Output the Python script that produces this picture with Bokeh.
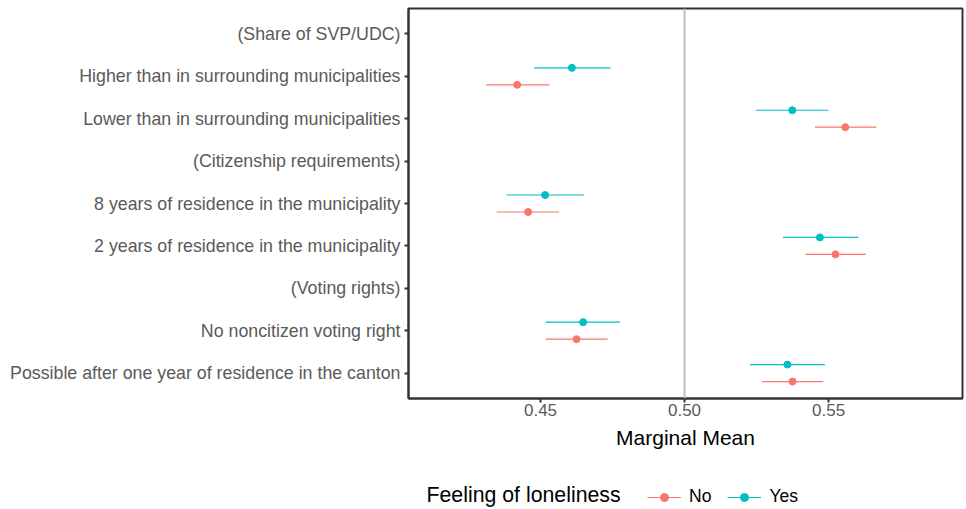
from bokeh.plotting import figure
from bokeh.models import (ColumnDataSource, Range1d, FixedTicker, Legend, LegendItem, Span, Label)
from bokeh.layouts import column
from bokeh.transform import dodge
from bokeh.embed import file_html
from bokeh.resources import INLINE

# Axis categories, bottom to top
y_labels = [
    "Possible after one year of residence in the canton",
    "No noncitizen voting right",
    "(Voting rights)",
    "2 years of residence in the municipality",
    "8 years of residence in the municipality",
    "(Citizenship requirements)",
    "Lower than in surrounding municipalities",
    "Higher than in surrounding municipalities",
    "(Share of SVP/UDC)",
]

levels = [
    "Possible after one year of residence in the canton",
    "No noncitizen voting right",
    "2 years of residence in the municipality",
    "8 years of residence in the municipality",
    "Lower than in surrounding municipalities",
    "Higher than in surrounding municipalities",
]
no_est = [0.5375, 0.4625, 0.5524, 0.4457, 0.5558, 0.4419]
no_lo = [0.5269, 0.4518, 0.5420, 0.4348, 0.5453, 0.4312]
no_hi = [0.5482, 0.4733, 0.5630, 0.4565, 0.5666, 0.4531]
yes_est = [0.5357, 0.4648, 0.5470, 0.4516, 0.5374, 0.4609]
yes_lo = [0.5227, 0.4518, 0.5342, 0.4382, 0.5248, 0.4478]
yes_hi = [0.5487, 0.4776, 0.5603, 0.4651, 0.5500, 0.4743]

x_ticks = [0.45, 0.50, 0.55]
x_tick_labels = ["0.45", "0.50", "0.55"]

legend_title = "Feeling of loneliness"
legend_labels = ["No", "Yes"]

NO_COLOR = "#F8766D"
YES_COLOR = "#00BFC4"
FONT = "Liberation Sans"
TICK_COLOR = "#5A5A5A"

ypos = [y_labels.index(l) + 1 for l in levels]

src_no = ColumnDataSource(dict(y=ypos, est=no_est, lo=no_lo, hi=no_hi))
src_yes = ColumnDataSource(dict(y=ypos, est=yes_est, lo=yes_lo, hi=yes_hi))

p = figure(width=964, height=451, output_backend="svg", toolbar_location=None,
           x_range=Range1d(0.40417, 0.5965), y_range=Range1d(0.4, 9.6),
           min_border_top=8, min_border_right=2, min_border_left=408, min_border_bottom=0)

p.background_fill_color = "white"
p.border_fill_color = "white"
p.outline_line_color = "#333333"
p.outline_line_width = 2
p.xgrid.visible = False
p.ygrid.visible = False

p.add_layout(Span(location=0.5, dimension="height", line_color="#BEBEBE", line_width=2))

p.segment(x0="lo", x1="hi", y0=dodge("y", -0.2), y1=dodge("y", -0.2),
          source=src_no, line_color=NO_COLOR, line_width=1.2)
p.scatter(x="est", y=dodge("y", -0.2), source=src_no, size=7,
          fill_color=NO_COLOR, line_color=NO_COLOR)
p.segment(x0="lo", x1="hi", y0=dodge("y", 0.2), y1=dodge("y", 0.2),
          source=src_yes, line_color=YES_COLOR, line_width=1.2)
p.scatter(x="est", y=dodge("y", 0.2), source=src_yes, size=7,
          fill_color=YES_COLOR, line_color=YES_COLOR)

# y axis
p.yaxis.ticker = FixedTicker(ticks=list(range(1, len(y_labels) + 1)))
p.yaxis.major_label_overrides = {i + 1: l for i, l in enumerate(y_labels)}
p.yaxis.minor_tick_line_color = None
p.yaxis.major_label_text_font = FONT
p.yaxis.major_label_text_font_size = "17.8px"
p.yaxis.major_label_text_color = TICK_COLOR
p.yaxis.axis_line_color = "#333333"
p.yaxis.axis_line_width = 2
p.yaxis.major_tick_line_color = "#333333"
p.yaxis.major_tick_line_width = 2
p.yaxis.major_tick_out = 4
p.yaxis.major_tick_in = 0
p.yaxis.major_label_standoff = 4

# x axis
p.xaxis.ticker = FixedTicker(ticks=x_ticks)
p.xaxis.major_label_overrides = {t: l for t, l in zip(x_ticks, x_tick_labels)}
p.xaxis.minor_tick_line_color = None
p.xaxis.major_label_text_font = FONT
p.xaxis.major_label_text_font_size = "17px"
p.xaxis.major_label_text_color = TICK_COLOR
p.xaxis.axis_line_color = "#333333"
p.xaxis.axis_line_width = 2
p.xaxis.major_tick_line_color = "#333333"
p.xaxis.major_tick_line_width = 2
p.xaxis.major_tick_out = 4
p.xaxis.major_tick_in = 0
p.xaxis.major_label_standoff = 1
p.xaxis.axis_label = "Marginal Mean"
p.xaxis.axis_label_text_font = FONT
p.xaxis.axis_label_text_font_size = "21px"
p.xaxis.axis_label_text_font_style = "normal"
p.xaxis.axis_label_text_color = "black"
p.xaxis.axis_label_standoff = 7

# legend strip
leg = figure(width=964, height=56, output_backend="svg", toolbar_location=None,
             x_range=Range1d(0, 1), y_range=Range1d(0, 1),
             min_border=0, min_border_left=408, outline_line_color=None)
leg.axis.visible = False
leg.grid.visible = False
nan = float("nan")
items = []
for lab, col in zip(legend_labels, [NO_COLOR, YES_COLOR]):
    s = ColumnDataSource(dict(x0=[nan], x1=[nan], y0=[nan], y1=[nan], x=[nan], y=[nan]))
    rs = leg.segment(x0="x0", x1="x1", y0="y0", y1="y1", source=s, line_color=col, line_width=1.2)
    rp = leg.scatter(x="x", y="y", source=s, size=7, fill_color=col, line_color=col)
    items.append(LegendItem(label=lab, renderers=[rs, rp]))

legend = Legend(items=items, orientation="horizontal", location=(239, 0))
legend.label_text_font = FONT
legend.label_text_font_size = "17.5px"
legend.label_text_color = "black"
legend.glyph_width = 34
legend.label_standoff = 8
legend.spacing = 16
legend.padding = 2
legend.margin = 0
legend.border_line_color = None
legend.background_fill_alpha = 0
leg.add_layout(legend)

leg.add_layout(Label(x=18, y=13, x_units="screen", y_units="screen",
                     text=legend_title, text_font=FONT, text_font_size="21.3px",
                     text_color="black", text_baseline="middle"))

open("out.html", "w").write(file_html(column(p, leg, spacing=0), INLINE))
